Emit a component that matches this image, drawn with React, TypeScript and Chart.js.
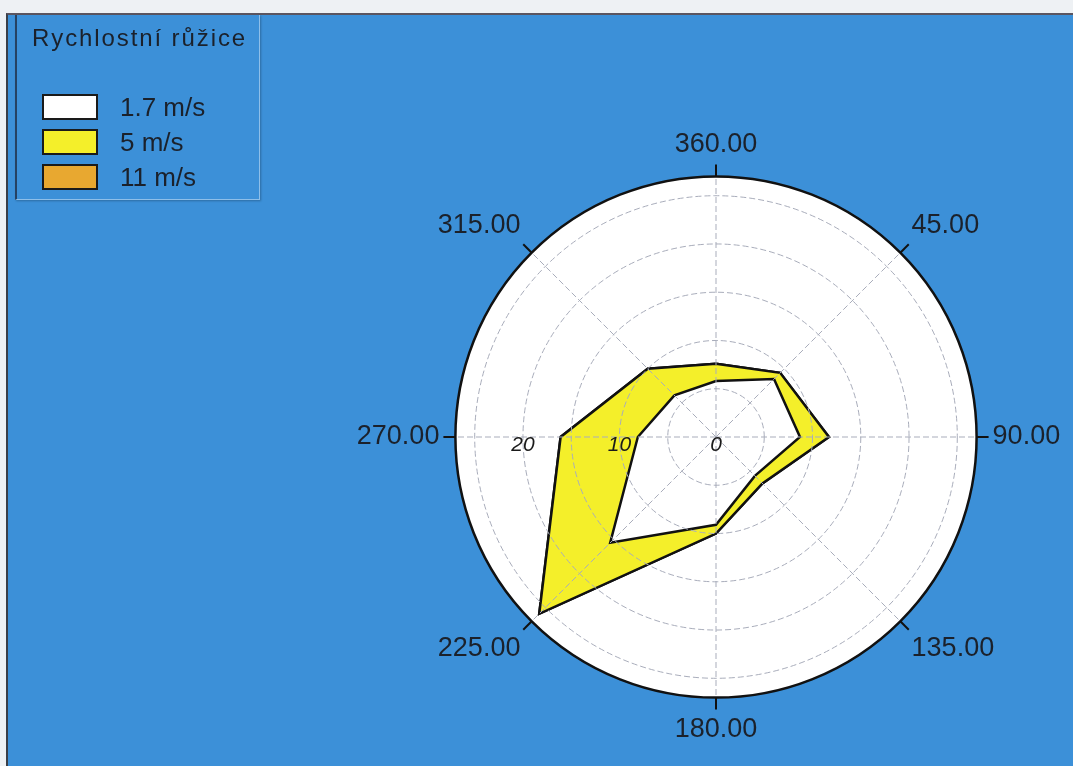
import React, { useEffect, useRef } from 'react';
import { Chart, registerables } from 'chart.js';

Chart.register(...registerables);

// ---- data ----
const directions = ['360.00', '45.00', '90.00', '135.00', '180.00', '225.00', '270.00', '315.00'];
const seriesNames = ['1.7 m/s', '5 m/s', '11 m/s'];
const seriesColors = ['#ffffff', '#f4ef2a', '#e8a830'];
// outer boundary (radius) of each speed class per direction
const speed17 = [5.8, 8.5, 8.7, 5.7, 9.1, 15.5, 8.1, 6.1];
const speed5 = [7.6, 9.4, 11.7, 6.8, 10.0, 25.9, 16.1, 10.0];
const speed11 = [7.6, 9.4, 11.7, 6.8, 10.0, 25.9, 16.1, 10.0];
const ringValues = [0, 5, 10, 15, 20, 25, 27];
const tickLabels = [0, 10, 20];
const legendTitle = 'Rychlostní růžice';

const RMAX = ringValues[ringValues.length - 1];
const BLUE = '#3c90d8';
const GRID = '#a9adbb';
const TEXT = '#1b212b';
const FONT = '"Liberation Sans", Arial, Helvetica, sans-serif';
const LABEL_DIR = directions.indexOf('270.00');

const roseDecor = {
  id: 'roseDecor',
  beforeDraw(chart: any) {
    const s = chart.scales.r;
    const ctx = chart.ctx;
    ctx.save();
    ctx.beginPath();
    ctx.arc(s.xCenter, s.yCenter, s.getDistanceFromCenterForValue(RMAX), 0, Math.PI * 2);
    ctx.fillStyle = '#ffffff';
    ctx.fill();
    ctx.restore();
  },
  afterDraw(chart: any) {
    const s = chart.scales.r;
    const ctx = chart.ctx;
    const R = s.getDistanceFromCenterForValue(RMAX);
    ctx.save();
    ctx.strokeStyle = '#111';
    ctx.lineWidth = 2;
    for (let i = 0; i < directions.length; i++) {
      const a = s.getPointPosition(i, R);
      const b = s.getPointPosition(i, R + 12);
      ctx.beginPath();
      ctx.moveTo(a.x, a.y);
      ctx.lineTo(b.x, b.y);
      ctx.stroke();
    }
    ctx.font = `italic 21px ${FONT}`;
    ctx.fillStyle = '#1a1a1a';
    ctx.textAlign = 'center';
    ctx.textBaseline = 'middle';
    for (const v of tickLabels) {
      const p = s.getPointPosition(LABEL_DIR, s.getDistanceFromCenterForValue(v));
      ctx.fillText(String(v), p.x, p.y + 8);
    }
    ctx.restore();
  },
};

export default function App() {
  const canvasRef = useRef<HTMLCanvasElement | null>(null);

  useEffect(() => {
    if (!canvasRef.current) return;
    const values = [speed17, speed5, speed11];
    const chart = new Chart(canvasRef.current, {
      type: 'radar',
      data: {
        labels: directions,
        datasets: seriesNames.map((name, i) => ({
          label: name,
          data: values[i],
          backgroundColor: seriesColors[i],
          borderColor: '#111',
          borderWidth: 2.5,
          fill: 'origin',
          pointRadius: 0,
          pointHoverRadius: 0,
          tension: 0,
        })),
      },
      options: {
        animation: false,
        responsive: true,
        maintainAspectRatio: false,
        events: [],
        layout: { padding: { left: 349, right: 4, top: 128, bottom: 20 } },
        plugins: {
          legend: { display: false },
          tooltip: { enabled: false },
          title: { display: false },
        },
        scales: {
          r: {
            min: 0,
            max: RMAX,
            startAngle: 0,
            afterBuildTicks: (axis: any) => {
              axis.ticks = ringValues.map((v) => ({ value: v }));
            },
            ticks: { display: false, z: 1 },
            grid: {
              circular: true,
              z: 1,
              color: (c: any) => (c.tick && c.tick.value === RMAX ? '#111' : GRID),
              lineWidth: (c: any) => (c.tick && c.tick.value === RMAX ? 2.5 : 1),
            },
            border: {
              dash: (c: any) => (c.tick && c.tick.value === RMAX ? [] : [6, 3]),
            },
            angleLines: {
              display: true,
              color: GRID,
              lineWidth: 1,
              borderDash: [6, 3],
            },
            pointLabels: {
              display: true,
              padding: 16,
              color: TEXT,
              font: { family: FONT, size: 27 },
            },
          },
        },
      },
      plugins: [roseDecor],
    } as any);
    return () => chart.destroy();
  }, []);

  return (
    <div style={{ position: 'fixed', left: 0, top: 0, width: '100vw', height: '100vh', background: '#eef1f4', overflow: 'hidden' }}>
      <div
        style={{
          position: 'absolute',
          left: 6,
          top: 13,
          right: 0,
          bottom: 0,
          background: BLUE,
          borderLeft: '2px solid #3a3f48',
          borderTop: '2px solid #5a5560',
        }}
      />
      <div style={{ position: 'absolute', left: 0, top: 0, width: '100%', height: '100%' }}>
        <canvas ref={canvasRef} />
      </div>
      <div
        style={{
          position: 'absolute',
          left: 15,
          top: 15,
          width: 245,
          height: 185,
          boxSizing: 'border-box',
          borderLeft: '2px solid rgba(30,40,60,0.75)',
          borderRight: '1px solid rgba(210,230,248,0.55)',
          borderBottom: '1px solid rgba(210,230,248,0.55)',
          boxShadow: '1px 1px 2px rgba(0,0,0,0.25)',
        }}
      >
        <div
          style={{
            position: 'absolute',
            left: 15,
            top: 11,
            fontFamily: FONT,
            fontSize: 24,
            lineHeight: '24px',
            letterSpacing: 1.9,
            color: TEXT,
            whiteSpace: 'nowrap',
          }}
        >
          {legendTitle}
        </div>
        {seriesNames.map((name, i) => (
          <div
            key={name}
            style={{
              position: 'absolute',
              left: 25,
              top: 79 + i * 35,
              height: 26,
              display: 'flex',
              alignItems: 'center',
            }}
          >
            <div
              style={{
                width: 56,
                height: 26,
                boxSizing: 'border-box',
                background: seriesColors[i],
                border: '2px solid #1a1a1a',
              }}
            />
            <span
              style={{
                marginLeft: 22,
                fontFamily: FONT,
                fontSize: 26,
                lineHeight: '26px',
                color: TEXT,
                whiteSpace: 'nowrap',
              }}
            >
              {name}
            </span>
          </div>
        ))}
      </div>
    </div>
  );
}
